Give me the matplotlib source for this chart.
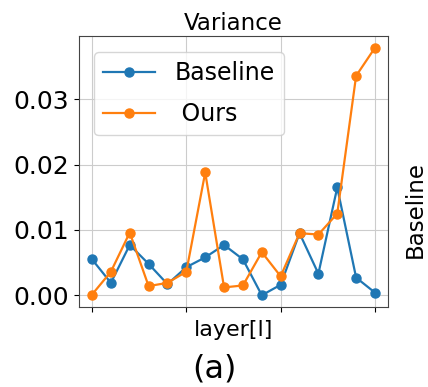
import numpy as np
import matplotlib
matplotlib.use('Agg')
import matplotlib.pyplot as plt

# значения по слоям
layers = np.arange(16)
baseline = [0.0055, 0.0019, 0.0077, 0.0048, 0.0017, 0.0043, 0.0058, 0.0077,
            0.0055, 0.0000, 0.0016, 0.0095, 0.0033, 0.0165, 0.0027, 0.0004]
ours = [0.0001, 0.0036, 0.0096, 0.0014, 0.0019, 0.0036, 0.0188, 0.0012,
        0.0015, 0.0066, 0.0029, 0.0095, 0.0093, 0.0125, 0.0336, 0.0379]
x_ticks = [0, 5, 10, 15]
y_ticks = [0.00, 0.01, 0.02, 0.03]

fig = plt.figure(figsize=(4.28, 3.87), dpi=100)
ax = fig.add_axes([79/428, 1 - 307/387, (388 - 79)/428, (307 - 36)/387])

ax.plot(layers, baseline, marker='o', markersize=6.5, lw=1.6, color='#1f77b4', label='Baseline')
ax.plot(layers, ours, marker='o', markersize=6.5, lw=1.6, color='#ff7f0e', label=' Ours')

ax.set_xticks(x_ticks)
ax.set_xticklabels([])
ax.set_yticks(y_ticks)
ax.set_yticklabels([f'{v:.2f}' for v in y_ticks], fontsize=18)
ax.set_ylim(-0.0018, 0.0397)
ax.set_xlim(-0.69, 15.69)
ax.grid(True, color='#cccccc')
for s in ax.spines.values():
    s.set_color('#444444')

ax.set_title('Variance', fontsize=16.5, pad=4)
ax.set_xlabel('layer[l]', fontsize=16, labelpad=2)
ax.legend(fontsize=17, loc='upper left', bbox_to_anchor=(0.01, 0.985),
          handlelength=2.2, labelspacing=0.7)

fig.text(214/428, 1 - 369/387, '(a)', fontsize=23, ha='center', va='center')
fig.text(415/428, 1 - 209/387, 'Baseline', fontsize=16.5, rotation=90, ha='center', va='center')

fig.savefig('out.png', dpi=100)
